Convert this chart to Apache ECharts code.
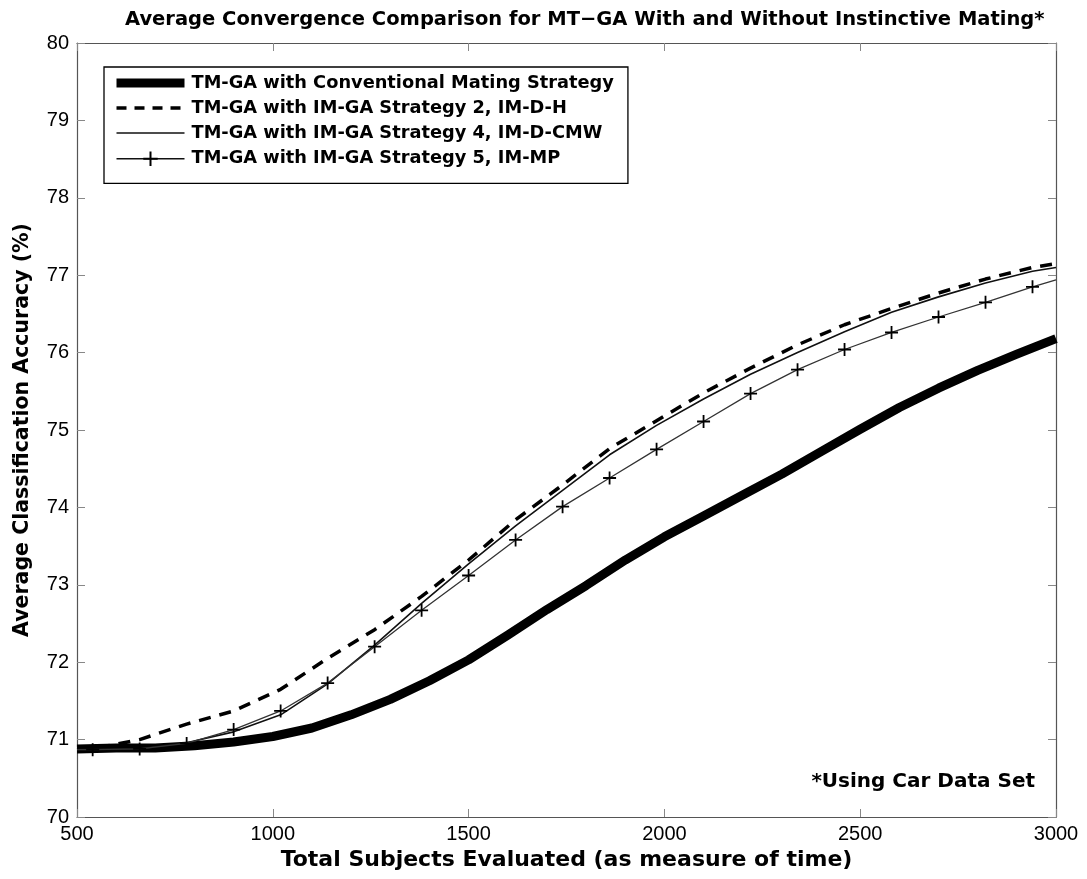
<!DOCTYPE html>
<html>
<head>
<meta charset="utf-8">
<script src="https://cdn.jsdelivr.net/npm/echarts@6/dist/echarts.min.js"></script>
<style>
html,body{margin:0;padding:0;background:#fff;}
#chart{width:1087px;height:879px;}
</style>
</head>
<body>
<div id="chart"></div>
<script>
// ---- data ----
const seriesNames = [
  'TM-GA with Conventional Mating Strategy',
  'TM-GA with IM-GA Strategy 2, IM-D-H',
  'TM-GA with IM-GA Strategy 4, IM-D-CMW',
  'TM-GA with IM-GA Strategy 5, IM-MP'
];
const xConv = [500,600,700,800,900,1000,1100,1200,1300,1400,1500,1600,1700,1800,1900,2000,2100,2200,2300,2400,2500,2600,2700,2800,2900,3000];
const yConv = [70.88,70.89,70.89,70.92,70.97,71.04,71.15,71.32,71.52,71.76,72.03,72.35,72.68,72.99,73.32,73.62,73.89,74.16,74.43,74.72,75.01,75.29,75.54,75.77,75.98,76.18];
const xIM = [500,540,660,780,900,1020,1140,1260,1380,1500,1620,1740,1860,1980,2100,2220,2340,2460,2580,2700,2820,2940,3000];
const yDH  = [70.87,70.88,71.00,71.20,71.37,71.65,72.05,72.42,72.85,73.32,73.84,74.29,74.76,75.12,75.48,75.80,76.10,76.36,76.57,76.77,76.95,77.10,77.15];
const yCMW = [70.87,70.87,70.88,70.96,71.10,71.32,71.72,72.22,72.76,73.27,73.76,74.22,74.68,75.06,75.40,75.72,76.00,76.27,76.52,76.72,76.90,77.05,77.10];
const yMP  = [70.87,70.87,70.88,70.95,71.13,71.37,71.73,72.20,72.67,73.12,73.58,74.01,74.38,74.75,75.11,75.47,75.78,76.04,76.26,76.46,76.65,76.85,76.94];
const xTicks = [500,1000,1500,2000,2500,3000];
const yTicks = [70,71,72,73,74,75,76,77,78,79,80];

const pair = (xs, ys) => xs.map((x, i) => [x, ys[i]]);
const mpData = xIM.map((x, i) => {
  const item = { value: [x, yMP[i]] };
  if (x === 500 || x === 3000) item.symbol = 'none';
  return item;
});

const FONT = '"Liberation Sans", Arial, Helvetica, sans-serif';
const BFONT = '"DejaVu Sans", "Liberation Sans", Arial, sans-serif';
const chart = echarts.init(document.getElementById('chart'), null, { renderer: 'canvas' });

const axisCommon = {
  axisLine: { show: true, lineStyle: { color: '#555', width: 1.2 } },
  axisTick: { show: true, inside: true, length: 8, lineStyle: { color: '#888', width: 1 } },
  splitLine: { show: false }
};
const plainLabel = v => String(v);

chart.setOption({
  animation: false,
  backgroundColor: '#fff',
  title: {
    text: 'Average Convergence Comparison for MT\u2212GA With and Without Instinctive Mating*',
    left: 120,
    top: 5,
    textStyle: { fontFamily: BFONT, fontSize: 19.5, fontWeight: 'bold', color: '#000' }
  },
  legend: {
    orient: 'vertical',
    left: 104,
    top: 67,
    padding: [7, 14, 15, 8],
    itemGap: 7,
    itemWidth: 68,
    itemHeight: 18,
    borderColor: '#000',
    borderWidth: 1.3,
    backgroundColor: '#fff',
    textStyle: { fontFamily: BFONT, fontSize: 17.8, fontWeight: 'bold', color: '#000', padding: [0, 0, 0, 2] },
    data: [
      { name: seriesNames[0], itemStyle: { opacity: 0 }, lineStyle: { width: 9, color: '#000', opacity: 1 } },
      { name: seriesNames[1], itemStyle: { opacity: 0 }, lineStyle: { width: 3.5, color: '#000', type: [10, 8], opacity: 1 } },
      { name: seriesNames[2], itemStyle: { opacity: 0 }, lineStyle: { width: 1.6, color: '#111', opacity: 1 } },
      { name: seriesNames[3], lineStyle: { width: 1.6, color: '#111' } }
    ]
  },
  grid: { left: 77, right: 31, top: 43, bottom: 62, containLabel: false },
  xAxis: [
    Object.assign({}, axisCommon, {
      type: 'value', min: xTicks[0], max: xTicks[xTicks.length - 1], interval: 500, position: 'bottom',
      name: 'Total Subjects Evaluated (as measure of time)',
      nameLocation: 'middle', nameGap: 32,
      nameTextStyle: { fontFamily: BFONT, fontSize: 22, fontWeight: 'bold', color: '#000' },
      axisLabel: { fontFamily: FONT, fontSize: 20, color: '#000', margin: 7, formatter: plainLabel }
    }),
    Object.assign({}, axisCommon, {
      type: 'value', min: xTicks[0], max: xTicks[xTicks.length - 1], interval: 500, position: 'top',
      axisLabel: { show: false }
    })
  ],
  yAxis: [
    Object.assign({}, axisCommon, {
      type: 'value', min: yTicks[0], max: yTicks[yTicks.length - 1], interval: 1, position: 'left',
      name: 'Average Classification Accuracy (%)',
      nameLocation: 'middle', nameGap: 44,
      nameTextStyle: { fontFamily: BFONT, fontSize: 20.5, fontWeight: 'bold', color: '#000' },
      axisLabel: { fontFamily: FONT, fontSize: 20, color: '#000', margin: 8, formatter: plainLabel }
    }),
    Object.assign({}, axisCommon, {
      type: 'value', min: yTicks[0], max: yTicks[yTicks.length - 1], interval: 1, position: 'right',
      axisLabel: { show: false }
    })
  ],
  graphic: [
    {
      type: 'text', right: 52, top: 772,
      style: { text: '*Using Car Data Set', fontFamily: BFONT, fontSize: 20, fontWeight: 'bold', fill: '#000' }
    }
  ],
  series: [
    {
      name: seriesNames[0], type: 'line', data: pair(xConv, yConv),
      xAxisIndex: 0, yAxisIndex: 0, smooth: false, showSymbol: false,
      lineStyle: { color: '#000', width: 9, cap: 'butt', join: 'round' },
      itemStyle: { color: '#000' }, z: 2
    },
    {
      name: seriesNames[1], type: 'line', data: pair(xIM, yDH),
      xAxisIndex: 0, yAxisIndex: 0, showSymbol: false,
      lineStyle: { color: '#000', width: 3.5, type: [12, 9] },
      itemStyle: { color: '#000' }, z: 3
    },
    {
      name: seriesNames[2], type: 'line', data: pair(xIM, yCMW),
      xAxisIndex: 0, yAxisIndex: 0, showSymbol: false,
      lineStyle: { color: '#111', width: 1.6 },
      itemStyle: { color: '#000' }, z: 4
    },
    {
      name: seriesNames[3], type: 'line', data: mpData,
      xAxisIndex: 0, yAxisIndex: 0, showSymbol: true,
      symbol: 'path://M0,-10L0,10M-10,0L10,0', symbolSize: 13,
      lineStyle: { color: '#333', width: 1.3 },
      itemStyle: { color: 'none', borderColor: '#000', borderWidth: 1.8 }, z: 5
    }
  ]
});
</script>
</body>
</html>
